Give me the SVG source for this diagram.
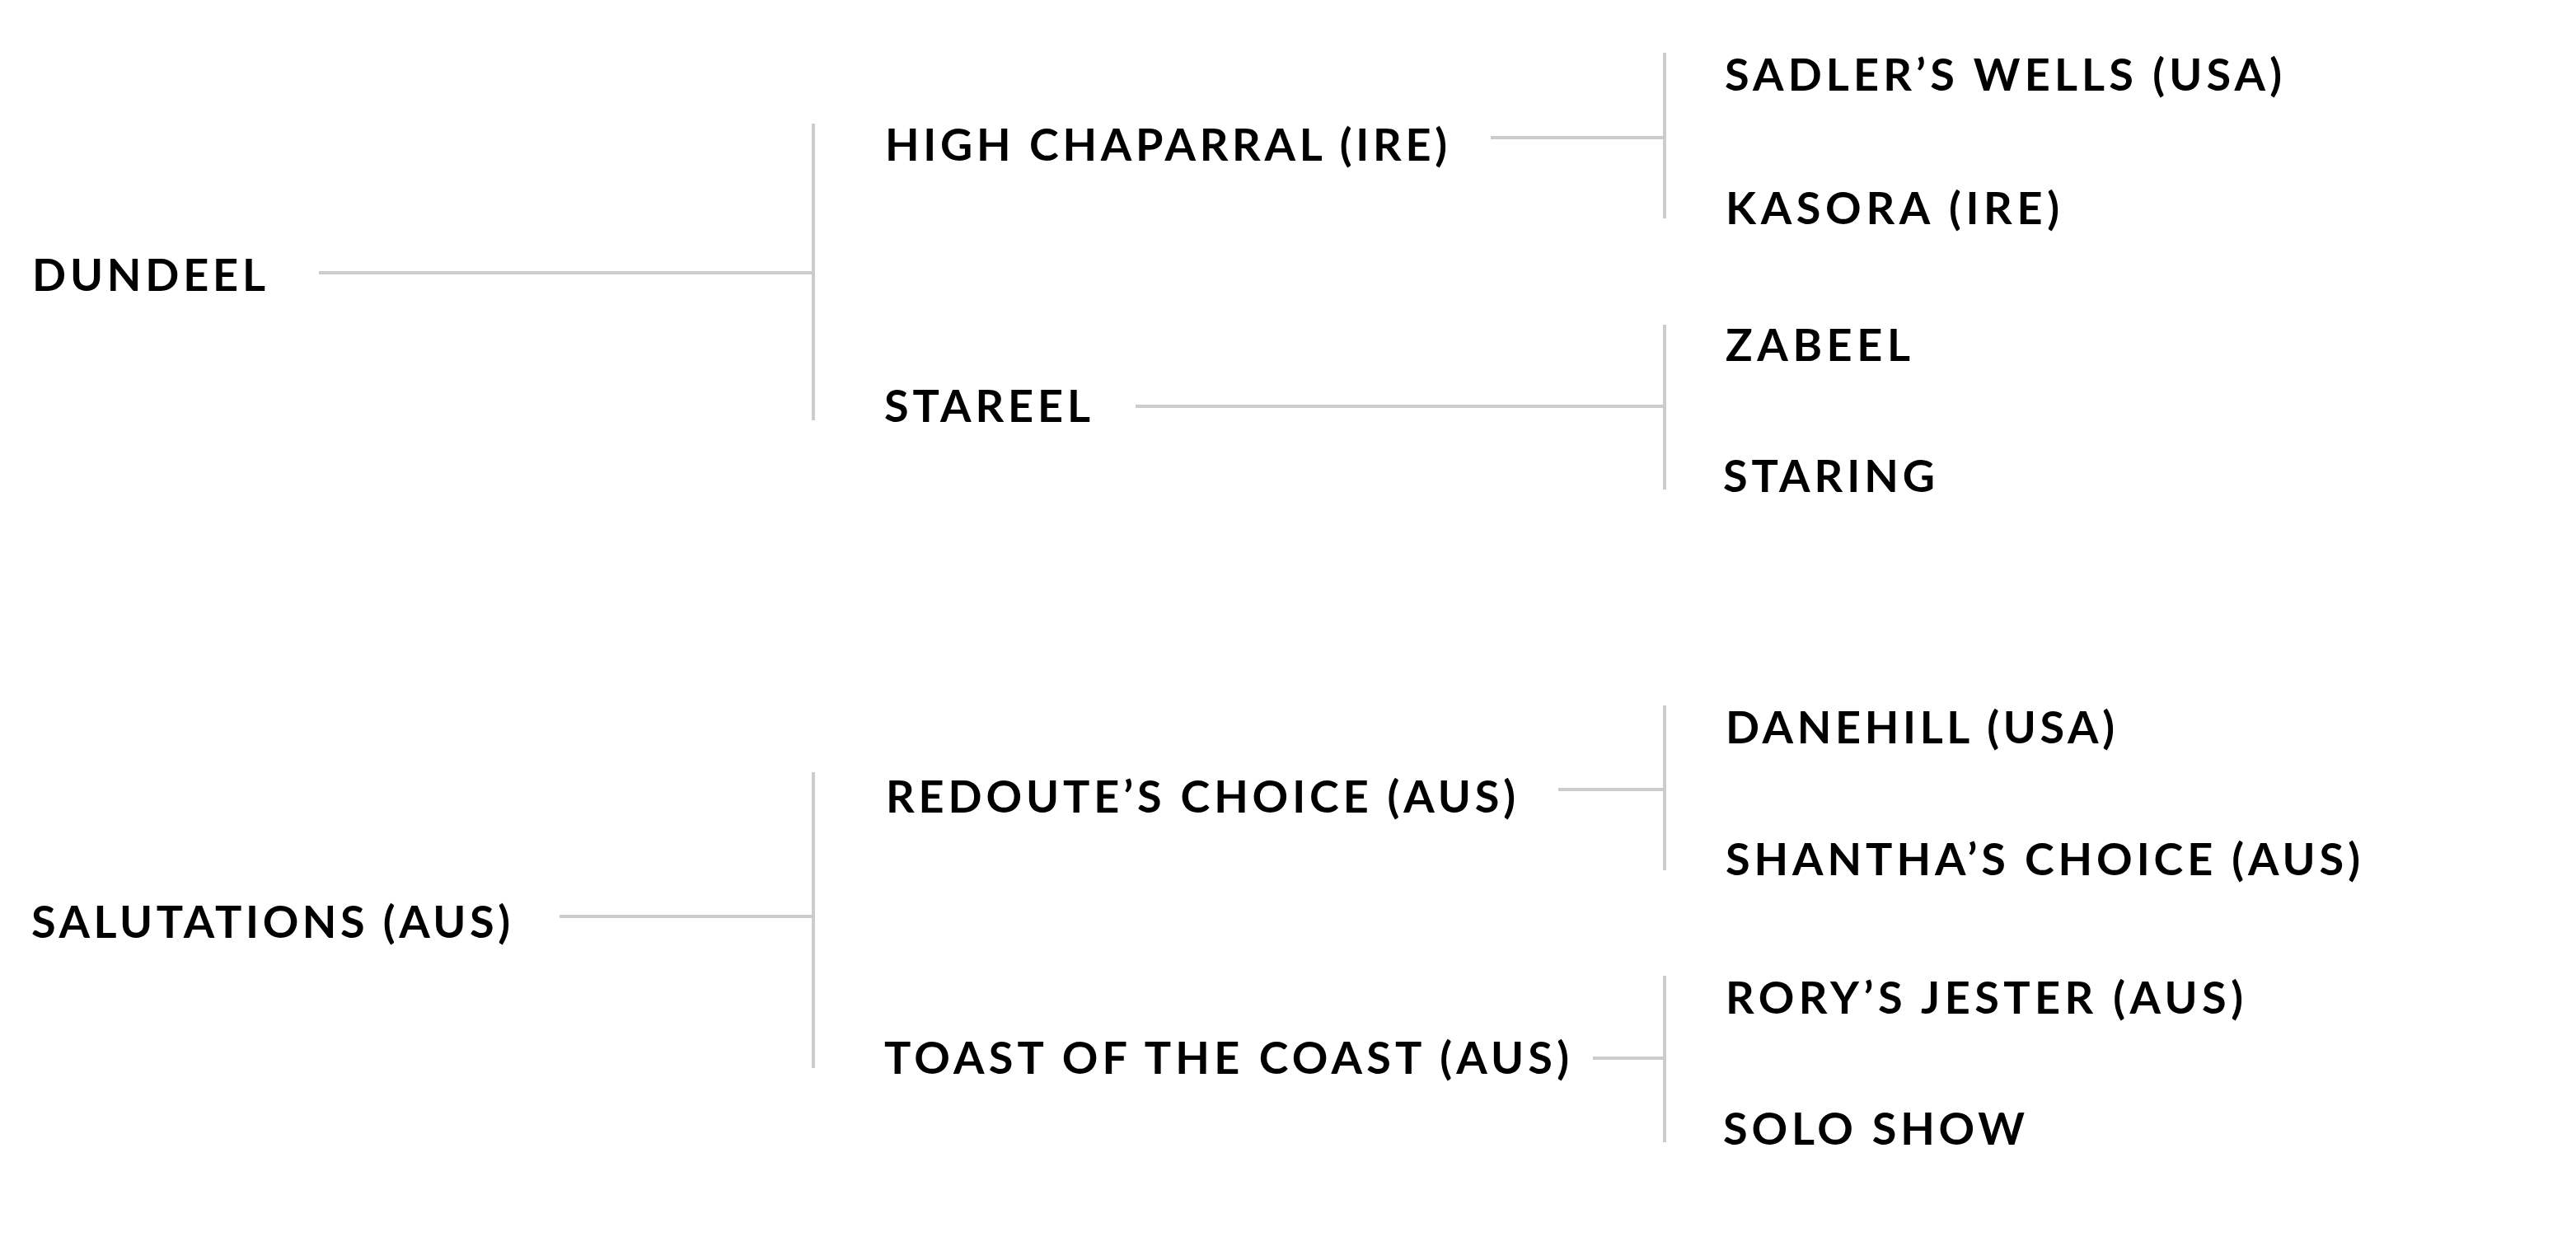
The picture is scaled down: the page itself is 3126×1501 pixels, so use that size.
<svg xmlns="http://www.w3.org/2000/svg" width="3126" height="1501" viewBox="0 0 3126 1501">
<style>
.t{font-family:"Lato","Noto Sans","DejaVu Sans",sans-serif;font-size:54px;font-weight:700;fill:#000}
.c{stroke:#cccccc;stroke-width:4;fill:none}
</style>
<rect width="3126" height="1501" fill="#ffffff"/>
<g id="connectors">
<path class="c" d="M387 331H987M987 150V510M679 1112H987M987 937V1296"/>
<path class="c" d="M1809 167H2020M1378 493H2020M1891 958H2020M1933 1284H2020"/>
<path class="c" d="M2020 64V265M2020 394V594M2020 856V1056M2020 1184V1386"/>
</g>
<g id="dundeel"><text class="t" x="39" y="353" textLength="283" lengthAdjust="spacing">DUNDEEL</text></g>
<g id="salutations"><text class="t" x="38" y="1138" textLength="581" lengthAdjust="spacing">SALUTATIONS (AUS)</text></g>
<g id="high-chaparral"><text class="t" x="1074" y="195" textLength="682" lengthAdjust="spacing">HIGH CHAPARRAL (IRE)</text></g>
<g id="stareel"><text class="t" x="1073" y="512" textLength="250" lengthAdjust="spacing">STAREEL</text></g>
<g id="redoutes-choice"><text class="t" x="1075" y="986" textLength="764" lengthAdjust="spacing">REDOUTE’S CHOICE (AUS)</text></g>
<g id="toast-of-the-coast"><text class="t" x="1073" y="1303" textLength="831" lengthAdjust="spacing">TOAST OF THE COAST (AUS)</text></g>
<g id="sadlers-wells"><text class="t" x="2093" y="110" textLength="676" lengthAdjust="spacing">SADLER’S WELLS (USA)</text></g>
<g id="kasora"><text class="t" x="2094" y="272" textLength="405" lengthAdjust="spacing">KASORA (IRE)</text></g>
<g id="zabeel"><text class="t" x="2094" y="438" textLength="224" lengthAdjust="spacing">ZABEEL</text></g>
<g id="staring"><text class="t" x="2091" y="597" textLength="257" lengthAdjust="spacing">STARING</text></g>
<g id="danehill"><text class="t" x="2094" y="902" textLength="472" lengthAdjust="spacing">DANEHILL (USA)</text></g>
<g id="shanthas-choice"><text class="t" x="2094" y="1062" textLength="770" lengthAdjust="spacing">SHANTHA’S CHOICE (AUS)</text></g>
<g id="rorys-jester"><text class="t" x="2094" y="1230" textLength="628" lengthAdjust="spacing">RORY’S JESTER (AUS)</text></g>
<g id="solo-show"><text class="t" x="2091" y="1389" textLength="366" lengthAdjust="spacing">SOLO SHOW</text></g>
</svg>
